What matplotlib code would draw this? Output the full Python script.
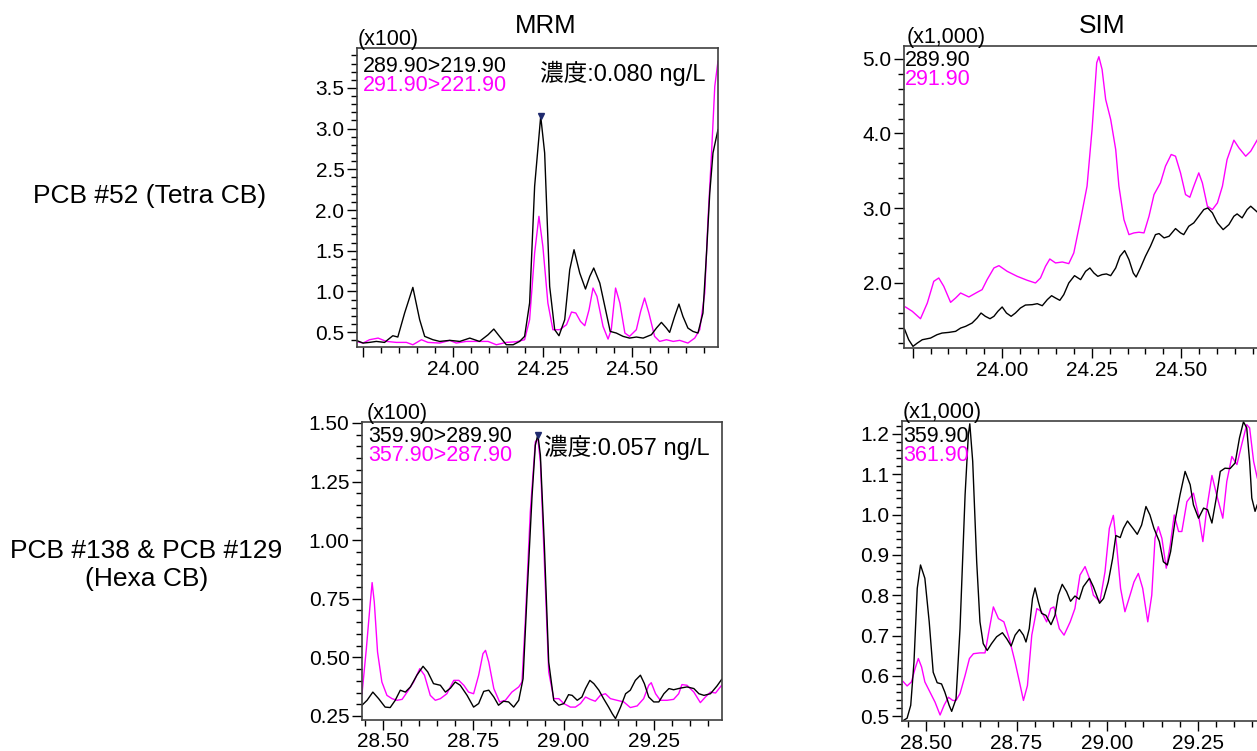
import numpy as np
import matplotlib.pyplot as plt
from matplotlib.ticker import MultipleLocator, FormatStrFormatter, FixedLocator, FixedFormatter

plt.rcParams['font.family'] = ['Liberation Sans', 'Noto Sans CJK JP', 'DejaVu Sans']

MAGENTA = '#ff00ff'

# --- PCB #52, MRM (x100) ---
mrm52_t_q = [23.730, 23.749, 23.767, 23.786, 23.809, 23.832, 23.846, 23.865, 23.888, 23.907,
             23.921, 23.944, 23.963, 23.991, 24.019, 24.047, 24.074, 24.098, 24.114, 24.130,
             24.149, 24.168, 24.186, 24.200, 24.214, 24.228, 24.245, 24.256, 24.270, 24.284,
             24.296, 24.312, 24.326, 24.338, 24.354, 24.370, 24.382, 24.393, 24.410, 24.428,
             24.439, 24.456, 24.475, 24.493, 24.512, 24.531, 24.554, 24.568, 24.582, 24.596,
             24.605, 24.619, 24.631, 24.642, 24.656, 24.670, 24.684, 24.698, 24.708, 24.717,
             24.726, 24.740]
mrm52_q = [0.398, 0.365, 0.373, 0.385, 0.373, 0.455, 0.439, 0.734, 1.049, 0.652,
           0.447, 0.406, 0.385, 0.398, 0.385, 0.426, 0.385, 0.467, 0.537, 0.447,
           0.344, 0.344, 0.385, 0.447, 0.857, 2.291, 3.152, 2.701, 1.061, 0.529,
           0.455, 0.652, 1.266, 1.512, 1.225, 1.029, 1.184, 1.287, 1.102, 0.734,
           0.508, 0.488, 0.447, 0.426, 0.439, 0.426, 0.467, 0.549, 0.619, 0.549,
           0.496, 0.693, 0.844, 0.693, 0.549, 0.508, 0.488, 0.734, 1.471, 2.209,
           2.701, 2.988]
mrm52_t_r = [23.730, 23.749, 23.767, 23.791, 23.814, 23.842, 23.870, 23.888, 23.912, 23.930,
             23.963, 23.991, 24.009, 24.037, 24.074, 24.098, 24.121, 24.149, 24.177, 24.200,
             24.214, 24.228, 24.240, 24.251, 24.265, 24.279, 24.298, 24.317, 24.331, 24.343,
             24.356, 24.368, 24.380, 24.391, 24.402, 24.419, 24.433, 24.442, 24.454, 24.466,
             24.480, 24.493, 24.512, 24.524, 24.535, 24.547, 24.563, 24.577, 24.596, 24.615,
             24.633, 24.656, 24.675, 24.689, 24.703, 24.712, 24.722, 24.731, 24.740]
mrm52_r = [0.385, 0.365, 0.406, 0.426, 0.385, 0.373, 0.373, 0.344, 0.406, 0.373,
           0.365, 0.398, 0.365, 0.385, 0.385, 0.385, 0.344, 0.373, 0.381, 0.406,
           0.652, 1.471, 1.922, 1.553, 0.857, 0.529, 0.529, 0.590, 0.746, 0.734,
           0.631, 0.578, 0.775, 1.041, 0.939, 0.570, 0.414, 0.529, 1.041, 0.857,
           0.488, 0.447, 0.529, 0.754, 0.918, 0.734, 0.447, 0.385, 0.406, 0.385,
           0.398, 0.365, 0.426, 0.529, 0.980, 1.881, 2.701, 3.520, 3.828]

# --- PCB #52, SIM (x1,000) ---
sim52_t_q = [23.728, 23.739, 23.751, 23.763, 23.777, 23.800, 23.818, 23.832, 23.851, 23.870,
             23.884, 23.898, 23.916, 23.930, 23.941, 23.953, 23.966, 23.977, 23.988, 24.000,
             24.012, 24.025, 24.037, 24.051, 24.065, 24.084, 24.098, 24.112, 24.126, 24.138,
             24.149, 24.161, 24.172, 24.186, 24.202, 24.219, 24.233, 24.245, 24.256, 24.267,
             24.279, 24.291, 24.303, 24.317, 24.329, 24.342, 24.354, 24.366, 24.374, 24.386,
             24.400, 24.414, 24.428, 24.438, 24.452, 24.466, 24.484, 24.498, 24.507, 24.521,
             24.535, 24.549, 24.563, 24.574, 24.587, 24.601, 24.617, 24.633, 24.647, 24.656,
             24.670, 24.684, 24.694, 24.713]
sim52_q = [1.375, 1.241, 1.152, 1.196, 1.241, 1.263, 1.308, 1.330, 1.339, 1.353,
           1.397, 1.420, 1.464, 1.531, 1.598, 1.554, 1.522, 1.554, 1.621, 1.679,
           1.598, 1.554, 1.598, 1.665, 1.705, 1.710, 1.723, 1.696, 1.777, 1.830,
           1.799, 1.768, 1.844, 2.000, 2.098, 2.045, 2.156, 2.201, 2.134, 2.089,
           2.112, 2.121, 2.098, 2.201, 2.357, 2.433, 2.313, 2.134, 2.080, 2.201,
           2.357, 2.491, 2.647, 2.661, 2.603, 2.625, 2.728, 2.670, 2.647, 2.759,
           2.804, 2.893, 2.982, 3.004, 2.938, 2.804, 2.714, 2.781, 2.893, 2.924,
           2.871, 2.982, 3.027, 2.946]
sim52_t_r = [23.730, 23.749, 23.772, 23.791, 23.809, 23.823, 23.837, 23.856, 23.870, 23.884,
             23.907, 23.930, 23.944, 23.958, 23.977, 23.991, 24.014, 24.042, 24.070, 24.093,
             24.107, 24.121, 24.133, 24.149, 24.168, 24.186, 24.200, 24.219, 24.237, 24.251,
             24.264, 24.270, 24.279, 24.289, 24.303, 24.317, 24.326, 24.340, 24.354, 24.368,
             24.382, 24.396, 24.410, 24.424, 24.442, 24.456, 24.472, 24.484, 24.498, 24.512,
             24.524, 24.535, 24.549, 24.559, 24.573, 24.587, 24.601, 24.615, 24.628, 24.647,
             24.661, 24.680, 24.694, 24.713]
sim52_r = [1.679, 1.621, 1.522, 1.732, 2.022, 2.067, 1.955, 1.741, 1.799, 1.866,
           1.813, 1.875, 1.911, 2.045, 2.201, 2.232, 2.156, 2.089, 2.036, 2.000,
           2.067, 2.223, 2.321, 2.268, 2.281, 2.259, 2.402, 2.848, 3.295, 4.054,
           4.946, 5.027, 4.857, 4.455, 4.188, 3.786, 3.295, 2.848, 2.647, 2.670,
           2.679, 2.670, 2.893, 3.183, 3.339, 3.563, 3.719, 3.696, 3.473, 3.183,
           3.147, 3.295, 3.473, 3.339, 3.027, 2.982, 3.071, 3.295, 3.652, 3.911,
           3.808, 3.696, 3.763, 3.920]

# --- PCB #138 & #129, MRM (x100) ---
mrm138_t_q = [28.442, 28.456, 28.472, 28.488, 28.506, 28.520, 28.534, 28.548, 28.562, 28.576,
              28.594, 28.611, 28.624, 28.640, 28.659, 28.673, 28.687, 28.700, 28.714, 28.733,
              28.751, 28.765, 28.779, 28.793, 28.807, 28.820, 28.834, 28.848, 28.862, 28.876,
              28.888, 28.899, 28.913, 28.922, 28.929, 28.936, 28.947, 28.959, 28.973, 28.987,
              29.001, 29.014, 29.024, 29.038, 29.051, 29.061, 29.073, 29.084, 29.098, 29.111,
              29.125, 29.135, 29.144, 29.158, 29.172, 29.185, 29.199, 29.213, 29.224, 29.236,
              29.250, 29.264, 29.278, 29.292, 29.305, 29.324, 29.342, 29.361, 29.375, 29.389,
              29.407, 29.425, 29.438]
mrm138_q = [0.296, 0.317, 0.352, 0.324, 0.288, 0.286, 0.317, 0.360, 0.352, 0.374,
            0.424, 0.462, 0.438, 0.388, 0.381, 0.352, 0.369, 0.395, 0.381, 0.338,
            0.288, 0.303, 0.355, 0.360, 0.331, 0.296, 0.313, 0.310, 0.288, 0.317,
            0.409, 0.765, 1.191, 1.405, 1.450, 1.362, 0.978, 0.480, 0.317, 0.296,
            0.303, 0.341, 0.338, 0.317, 0.331, 0.367, 0.402, 0.388, 0.360, 0.324,
            0.288, 0.260, 0.239, 0.288, 0.345, 0.360, 0.402, 0.424, 0.388, 0.331,
            0.310, 0.310, 0.345, 0.367, 0.362, 0.369, 0.374, 0.367, 0.345, 0.338,
            0.345, 0.378, 0.406]
mrm138_t_r = [28.442, 28.454, 28.465, 28.470, 28.476, 28.485, 28.497, 28.511, 28.525, 28.539,
              28.553, 28.567, 28.585, 28.602, 28.615, 28.631, 28.645, 28.659, 28.677, 28.696,
              28.710, 28.724, 28.737, 28.751, 28.765, 28.777, 28.784, 28.793, 28.807, 28.823,
              28.839, 28.857, 28.876, 28.885, 28.894, 28.908, 28.922, 28.929, 28.936, 28.947,
              28.959, 28.973, 28.987, 29.001, 29.019, 29.033, 29.047, 29.061, 29.074, 29.088,
              29.102, 29.116, 29.130, 29.148, 29.167, 29.185, 29.204, 29.222, 29.236, 29.243,
              29.255, 29.268, 29.287, 29.305, 29.319, 29.328, 29.342, 29.361, 29.379, 29.393,
              29.407, 29.421, 29.438]
mrm138_r = [0.345, 0.537, 0.736, 0.819, 0.736, 0.523, 0.395, 0.338, 0.324, 0.317,
            0.321, 0.352, 0.395, 0.452, 0.424, 0.338, 0.317, 0.324, 0.345, 0.402,
            0.402, 0.381, 0.352, 0.345, 0.424, 0.516, 0.530, 0.480, 0.367, 0.310,
            0.317, 0.352, 0.374, 0.395, 0.651, 1.120, 1.419, 1.433, 1.334, 0.907,
            0.438, 0.324, 0.324, 0.303, 0.288, 0.288, 0.303, 0.331, 0.321, 0.313,
            0.338, 0.345, 0.324, 0.317, 0.310, 0.286, 0.293, 0.324, 0.381, 0.392,
            0.345, 0.317, 0.317, 0.321, 0.345, 0.384, 0.381, 0.352, 0.307, 0.331,
            0.352, 0.348, 0.381]

# --- PCB #138 & #129, SIM (x1,000) ---
sim138_t_q = [28.437, 28.448, 28.458, 28.467, 28.476, 28.485, 28.497, 28.509, 28.520, 28.531,
              28.543, 28.552, 28.564, 28.571, 28.583, 28.594, 28.608, 28.617, 28.621, 28.629,
              28.640, 28.649, 28.658, 28.669, 28.681, 28.695, 28.711, 28.723, 28.735, 28.746,
              28.758, 28.769, 28.776, 28.785, 28.794, 28.801, 28.810, 28.819, 28.831, 28.845,
              28.856, 28.865, 28.876, 28.888, 28.899, 28.911, 28.923, 28.934, 28.951, 28.962,
              28.979, 28.990, 29.003, 29.015, 29.024, 29.036, 29.045, 29.056, 29.071, 29.083,
              29.095, 29.107, 29.118, 29.129, 29.144, 29.155, 29.166, 29.175, 29.187, 29.201,
              29.215, 29.229, 29.238, 29.252, 29.266, 29.277, 29.289, 29.301, 29.312, 29.325,
              29.339, 29.353, 29.365, 29.376, 29.385, 29.393, 29.399, 29.408, 29.414]
sim138_q = [0.489, 0.495, 0.527, 0.634, 0.817, 0.875, 0.842, 0.734, 0.609, 0.583,
            0.580, 0.560, 0.527, 0.512, 0.543, 0.717, 1.049, 1.198, 1.225, 1.132,
            0.883, 0.734, 0.680, 0.663, 0.680, 0.697, 0.707, 0.692, 0.674, 0.701,
            0.715, 0.701, 0.684, 0.717, 0.792, 0.818, 0.784, 0.755, 0.750, 0.727,
            0.750, 0.800, 0.827, 0.809, 0.785, 0.798, 0.790, 0.821, 0.842, 0.821,
            0.780, 0.792, 0.833, 0.891, 0.948, 0.943, 0.966, 0.984, 0.966, 0.951,
            0.974, 1.020, 0.999, 0.966, 0.933, 0.883, 0.875, 0.908, 0.983, 1.049,
            1.107, 1.074, 1.024, 0.991, 1.016, 1.012, 0.979, 1.041, 1.107, 1.115,
            1.114, 1.128, 1.190, 1.230, 1.215, 1.132, 1.041, 1.008, 1.024]
sim138_t_r = [28.437, 28.448, 28.460, 28.470, 28.479, 28.488, 28.497, 28.511, 28.525, 28.539,
              28.550, 28.562, 28.574, 28.583, 28.594, 28.608, 28.620, 28.631, 28.649, 28.663,
              28.675, 28.686, 28.700, 28.715, 28.730, 28.746, 28.758, 28.769, 28.780, 28.792,
              28.806, 28.819, 28.833, 28.844, 28.853, 28.868, 28.881, 28.898, 28.911, 28.925,
              28.939, 28.951, 28.962, 28.980, 28.994, 29.006, 29.017, 29.026, 29.037, 29.049,
              29.063, 29.074, 29.086, 29.098, 29.112, 29.123, 29.132, 29.141, 29.151, 29.163,
              29.174, 29.185, 29.197, 29.206, 29.220, 29.238, 29.252, 29.264, 29.275, 29.289,
              29.302, 29.319, 29.330, 29.344, 29.358, 29.371, 29.385, 29.393, 29.404, 29.414]
sim138_r = [0.586, 0.575, 0.585, 0.618, 0.643, 0.622, 0.585, 0.560, 0.535, 0.503,
            0.527, 0.547, 0.539, 0.539, 0.556, 0.601, 0.643, 0.655, 0.657, 0.657,
            0.717, 0.771, 0.742, 0.734, 0.692, 0.634, 0.585, 0.539, 0.576, 0.701,
            0.767, 0.759, 0.734, 0.767, 0.771, 0.717, 0.701, 0.734, 0.767, 0.850,
            0.871, 0.842, 0.800, 0.784, 0.858, 0.966, 0.998, 0.925, 0.817, 0.759,
            0.800, 0.833, 0.854, 0.817, 0.734, 0.800, 0.941, 0.970, 0.941, 0.867,
            0.925, 0.999, 0.958, 0.958, 1.032, 1.053, 0.999, 0.933, 1.016, 1.097,
            1.049, 0.991, 1.082, 1.144, 1.124, 1.173, 1.223, 1.215, 1.132, 1.091]

# Labels
row_labels = ["PCB #52 (Tetra CB)", "PCB #138 & PCB #129\n(Hexa CB)"]
col_titles = ["MRM", "SIM"]
ion_labels = [("289.90>219.90", "291.90>221.90"), ("289.90", "291.90"),
              ("359.90>289.90", "357.90>287.90"), ("359.90", "361.90")]
scale_labels = ["(x100)", "(x1,000)", "(x100)", "(x1,000)"]
conc_labels = ["濃度:0.080 ng/L", None, "濃度:0.057 ng/L", None]


def style_axes(ax, xlim, ylim, xticks, xticklabels, ymajor, yminor, yfmt):
    ax.set_xlim(*xlim)
    ax.set_ylim(*ylim)
    ax.xaxis.set_major_locator(FixedLocator(xticks))
    ax.xaxis.set_major_formatter(FixedFormatter(xticklabels))
    ax.xaxis.set_minor_locator(MultipleLocator(0.05))
    ax.yaxis.set_major_locator(MultipleLocator(ymajor))
    ax.yaxis.set_minor_locator(MultipleLocator(yminor))
    ax.yaxis.set_major_formatter(FormatStrFormatter(yfmt))
    ax.tick_params(which='both', direction='out', top=False, right=False,
                   labelsize=15, colors='black', width=1)
    ax.tick_params(which='major', length=7, pad=2)
    ax.tick_params(which='minor', length=4)
    for sp in ax.spines.values():
        sp.set_linewidth(1.2)
        sp.set_color('#404040')


fig = plt.figure(figsize=(12.57, 7.51), dpi=100)

# Axes placed to match the reference layout (right column runs off the page)
axA = fig.add_axes([0.2840, 0.5379, 0.2872, 0.3981])
axB = fig.add_axes([0.7192, 0.5366, 0.2872, 0.4021])
axC = fig.add_axes([0.2880, 0.0413, 0.2864, 0.3968])
axD = fig.add_axes([0.7176, 0.0399, 0.2872, 0.3995])

series = [
    (axA, mrm52_t_q, mrm52_q, mrm52_t_r, mrm52_r),
    (axB, sim52_t_q, sim52_q, sim52_t_r, sim52_r),
    (axC, mrm138_t_q, mrm138_q, mrm138_t_r, mrm138_r),
    (axD, sim138_t_q, sim138_q, sim138_t_r, sim138_r),
]
for ax, tq, q, tr, r in series:
    ax.plot(tr, r, color=MAGENTA, lw=1.0, solid_joinstyle='round')
    ax.plot(tq, q, color='black', lw=1.0, solid_joinstyle='round')

style_axes(axA, (23.732, 24.740), (0.316, 3.99), [23.75, 24.0, 24.25, 24.5],
           ['', '24.00', '24.25', '24.50'], 0.5, 0.1, '%.1f')
style_axes(axB, (23.726, 24.734), (1.13, 5.17), [23.75, 24.0, 24.25, 24.5],
           ['', '24.00', '24.25', '24.50'], 1.0, 0.2, '%.1f')
style_axes(axC, (28.442, 29.439), (0.233, 1.504), [28.5, 28.75, 29.0, 29.25],
           ['28.50', '28.75', '29.00', '29.25'], 0.25, 0.05, '%.2f')
style_axes(axD, (28.434, 29.430), (0.488, 1.232), [28.5, 28.75, 29.0, 29.25],
           ['28.50', '28.75', '29.00', '29.25'], 0.1, 0.02, '%.1f')

# Peak markers on the quantitation traces of the MRM panels
for ax, t, y in [(axA, mrm52_t_q, mrm52_q), (axC, mrm138_t_q, mrm138_q)]:
    i = int(np.argmax(y))
    ax.plot(t[i], y[i], marker='v', color='#1f2a6e', ms=4, clip_on=False)

# In-plot annotations (pixel offsets from the top-left / top-right corners)
insets = [(6, 18, 37), (1, 14, 33), (6, 15, 34), (1, 15, 34)]
scale_dx = [1, 3, 5, 1]
for k, ax in enumerate([axA, axB, axC, axD]):
    dx, dy1, dy2 = insets[k]
    ax.annotate(ion_labels[k][0], xy=(0, 1), xycoords='axes fraction',
                xytext=(dx, -dy1), textcoords='offset pixels',
                ha='left', va='center', fontsize=15.5, color='black')
    ax.annotate(ion_labels[k][1], xy=(0, 1), xycoords='axes fraction',
                xytext=(dx, -dy2), textcoords='offset pixels',
                ha='left', va='center', fontsize=15.5, color=MAGENTA)
    ax.annotate(scale_labels[k], xy=(0, 1), xycoords='axes fraction',
                xytext=(scale_dx[k], -2), textcoords='offset pixels',
                ha='left', va='bottom', fontsize=15.5, color='black',
                annotation_clip=False)
    if conc_labels[k]:
        ax.annotate(conc_labels[k], xy=(1, 1), xycoords='axes fraction',
                    xytext=(-12, -25), textcoords='offset pixels',
                    ha='right', va='center', fontsize=17, color='black')

# Column titles and row labels
fig.text(0.4344, 0.966, col_titles[0], ha='center', va='center', fontsize=18.5)
fig.text(0.8767, 0.966, col_titles[1], ha='center', va='center', fontsize=19)
fig.text(0.1193, 0.739, row_labels[0], ha='center', va='center', fontsize=19)
fig.text(0.1165, 0.2477, row_labels[1], ha='center', va='center', fontsize=19,
         linespacing=1.25)

fig.savefig('out.png', dpi=100)
